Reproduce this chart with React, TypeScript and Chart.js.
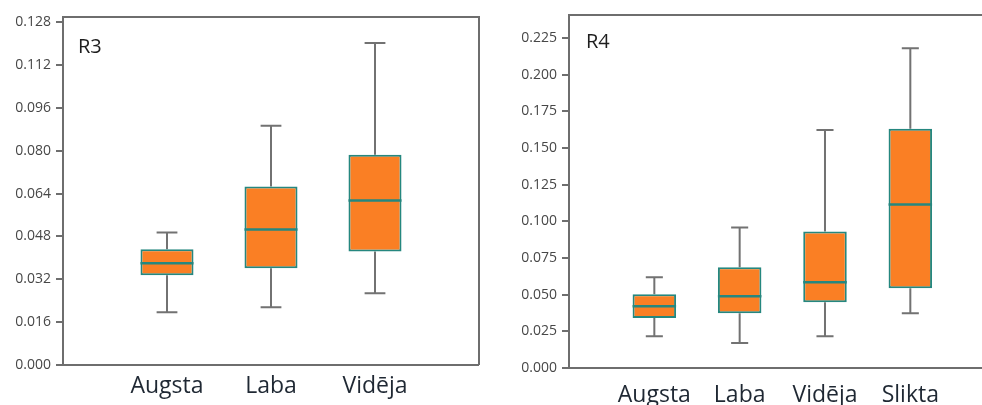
import React, { useEffect, useRef } from 'react';
import { Chart, registerables } from 'chart.js';
Chart.register(...registerables);

// ---- R3 data ----
const r3Categories = ['Augsta', 'Laba', 'Vidēja'];
const r3Min = [0.0197, 0.0216, 0.0268];
const r3Q1 = [0.0335, 0.0361, 0.0424];
const r3Median = [0.038, 0.0506, 0.0614];
const r3Q3 = [0.0432, 0.0666, 0.0785];
const r3Max = [0.0495, 0.0893, 0.1202];

// ---- R4 data ----
const r4Categories = ['Augsta', 'Laba', 'Vidēja', 'Slikta'];
const r4Min = [0.0217, 0.017, 0.0217, 0.0373];
const r4Q1 = [0.034, 0.0373, 0.0448, 0.0543];
const r4Median = [0.0421, 0.0489, 0.0584, 0.1114];
const r4Q3 = [0.0503, 0.0686, 0.093, 0.163];
const r4Max = [0.0618, 0.0958, 0.1623, 0.218];

const ORANGE = '#FA7F24';
const TEAL = '#25877f';
const GRAY = '#6e6e6e';

const boxPlugin = {
  id: 'boxplotExtras',
  beforeDatasetsDraw(chart: any, _args: any, opts: any) {
    const { ctx, chartArea: a, scales } = chart;
    const x = scales.x, y = scales.y;
    ctx.save();
    ctx.strokeStyle = GRAY;
    ctx.lineWidth = 2;
    ctx.beginPath();
    const r = opts.rightBorder ? a.right : chart.width + 2;
    ctx.moveTo(a.left, a.bottom);
    ctx.lineTo(a.left, a.top);
    ctx.lineTo(r, a.top);
    if (opts.rightBorder) ctx.lineTo(a.right, a.bottom);
    ctx.moveTo(r, a.bottom);
    ctx.lineTo(a.left, a.bottom);
    ctx.stroke();
    ctx.strokeStyle = '#727272';
    opts.mins.forEach((mn: number, i: number) => {
      const cx = x.getPixelForValue(i + 1);
      const half = (x.getPixelForValue(i + 1.1) - cx);
      const yMin = y.getPixelForValue(mn);
      const yMax = y.getPixelForValue(opts.maxs[i]);
      const yQ1 = y.getPixelForValue(opts.q1[i]);
      const yQ3 = y.getPixelForValue(opts.q3[i]);
      ctx.beginPath();
      ctx.moveTo(cx, yQ3);
      ctx.lineTo(cx, yMax);
      ctx.moveTo(cx - half, yMax);
      ctx.lineTo(cx + half, yMax);
      ctx.moveTo(cx, yQ1);
      ctx.lineTo(cx, yMin);
      ctx.moveTo(cx - half, yMin);
      ctx.lineTo(cx + half, yMin);
      ctx.stroke();
    });
    ctx.restore();
  },
  afterDatasetsDraw(chart: any, _args: any, opts: any) {
    const { ctx, chartArea: a, scales } = chart;
    const y = scales.y;
    const meta = chart.getDatasetMeta(0);
    ctx.save();
    ctx.strokeStyle = TEAL;
    ctx.lineWidth = 2.5;
    opts.medians.forEach((m: number, i: number) => {
      const el: any = meta.data[i];
      const py = y.getPixelForValue(m);
      ctx.beginPath();
      ctx.moveTo(el.x - el.width / 2, py);
      ctx.lineTo(el.x + el.width / 2, py);
      ctx.stroke();
    });
    ctx.fillStyle = '#1e1e1e';
    ctx.font = '20px "Open Sans"';
    ctx.textBaseline = 'alphabetic';
    ctx.textAlign = 'left';
    ctx.fillText(opts.title, a.left + opts.titleDx, a.top + opts.titleDy);
    ctx.restore();
  },
};

type Props = {
  left: number; width: number;
  cats: string[]; mins: number[]; q1: number[]; med: number[]; q3: number[]; maxs: number[];
  yMax: number; yStep: number; xMax: number;
  yW: number; xH: number; padTop: number; padRight: number; xPad: number;
  title: string; titleDx: number; titleDy: number; rightBorder: boolean;
};

function BoxChart(p: Props) {
  const ref = useRef<HTMLCanvasElement>(null);
  useEffect(() => {
    const chart = new Chart(ref.current as HTMLCanvasElement, {
      type: 'bar',
      data: {
        datasets: [{
          data: p.cats.map((_c, i) => ({ x: i + 1, y: [p.q1[i], p.q3[i]] })) as any,
          backgroundColor: ORANGE,
          borderColor: TEAL,
          borderWidth: 2,
          borderSkipped: false,
          barPercentage: 0.51,
          categoryPercentage: 1,
        }],
      },
      options: {
        responsive: false,
        maintainAspectRatio: false,
        animation: false,
        layout: { padding: { left: 0, right: p.padRight, top: p.padTop, bottom: 0 } },
        plugins: {
          legend: { display: false },
          tooltip: { enabled: false },
          boxplotExtras: {
            mins: p.mins, maxs: p.maxs, q1: p.q1, q3: p.q3, medians: p.med,
            title: p.title, titleDx: p.titleDx, titleDy: p.titleDy, rightBorder: p.rightBorder,
          },
        } as any,
        scales: {
          x: {
            type: 'linear',
            min: 0,
            max: p.xMax,
            offset: false,
            afterFit: (s: any) => { s.height = p.xH; },
            grid: { display: false, drawTicks: false, offset: false },
            border: { display: false },
            ticks: {
              stepSize: 1,
              includeBounds: false,
              autoSkip: false,
              maxRotation: 0,
              padding: p.xPad,
              color: '#1f2833',
              font: { family: '"Open Sans"', size: 23 },
              callback: (v: any) => (Number.isInteger(v) && p.cats[v - 1]) ? p.cats[v - 1] : '',
            },
          },
          y: {
            min: 0,
            max: p.yMax,
            afterFit: (s: any) => { s.width = p.yW; },
            grid: { drawOnChartArea: false, drawTicks: true, tickLength: 7, color: GRAY, lineWidth: 2 },
            border: { display: false },
            ticks: {
              stepSize: p.yStep,
              includeBounds: false,
              padding: 5,
              color: '#474747',
              font: { family: '"Open Sans"', size: 14 },
              callback: (v: any) => Number(v).toFixed(3),
            },
          },
        },
      },
      plugins: [boxPlugin as any],
    });
    return () => chart.destroy();
  }, []);
  return (
    <canvas
      ref={ref}
      width={p.width}
      height={405}
      style={{ position: 'absolute', left: p.left, top: 0, width: p.width, height: 405 }}
    />
  );
}

export default function App() {
  return (
    <div style={{ position: 'absolute', left: 0, top: 0, width: 982, height: 405, overflow: 'hidden', background: '#fff' }}>
      <BoxChart
        left={0} width={490}
        cats={r3Categories} mins={r3Min} q1={r3Q1} med={r3Median} q3={r3Q3} maxs={r3Max}
        yMax={0.1299} yStep={0.016} xMax={4}
        yW={63} xH={40} padTop={17} padRight={11} xPad={8}
        title="R3" titleDx={15} titleDy={36} rightBorder={true}
      />
      <BoxChart
        left={490} width={492}
        cats={r4Categories} mins={r4Min} q1={r4Q1} med={r4Median} q3={r4Q3} maxs={r4Max}
        yMax={0.2406} yStep={0.025} xMax={4.84}
        yW={79} xH={37} padTop={15} padRight={0} xPad={14}
        title="R4" titleDx={17} titleDy={33} rightBorder={false}
      />
    </div>
  );
}
